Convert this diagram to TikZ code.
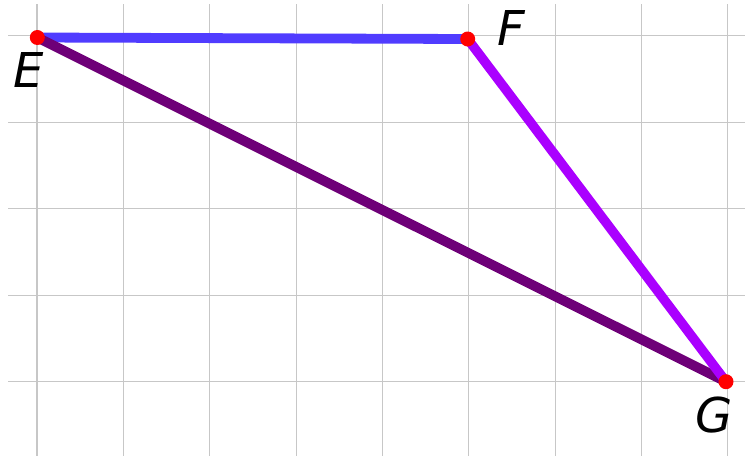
\documentclass[tikz,border=0pt]{standalone}
\usepackage{fontspec}
\setmainfont{DejaVu Sans}
\tikzset{
  gridline/.style={draw=black!22, line width=1.1pt},
  seg/.style={line width=9.8pt},
  pt/.style={circle, fill=red, inner sep=0pt, minimum size=15pt},
  lbl/.style={font=\fontsize{48}{48}\selectfont\itshape, inner sep=0pt}
}
\begin{document}
\begin{tikzpicture}[x=1pt,y=-1pt]
\useasboundingbox (0,0) rectangle (753,456);
\foreach \k in {0,...,8} {
  \draw[gridline] ({37+86.35*\k},4) -- ({37+86.35*\k},456);
}
\foreach \k in {0,...,4} {
  \draw[gridline] (8,{35.5+86.6*\k}) -- (745,{35.5+86.6*\k});
}
\coordinate (e) at (37.3,37.5);
\coordinate (f) at (467.7,39);
\coordinate (g) at (726,381.7);
\draw[seg, draw={rgb,255:red,80;green,60;blue,255}] (e) -- (f);
\draw[seg, draw={rgb,255:red,110;green,0;blue,120}] (e) -- (g);
\draw[seg, line width=9.5pt, draw={rgb,255:red,170;green,0;blue,255}] (f) -- (g);
\node[pt] (E) at (e) {};
\node[pt] (F) at (f) {};
\node[pt] (G) at (g) {};
\node[lbl] (lE) at (29,69.5) {E};
\node[lbl] (lF) at (511,27.5) {F};
\node[lbl] (lG) at (714,415) {G};
\end{tikzpicture}
\end{document}
